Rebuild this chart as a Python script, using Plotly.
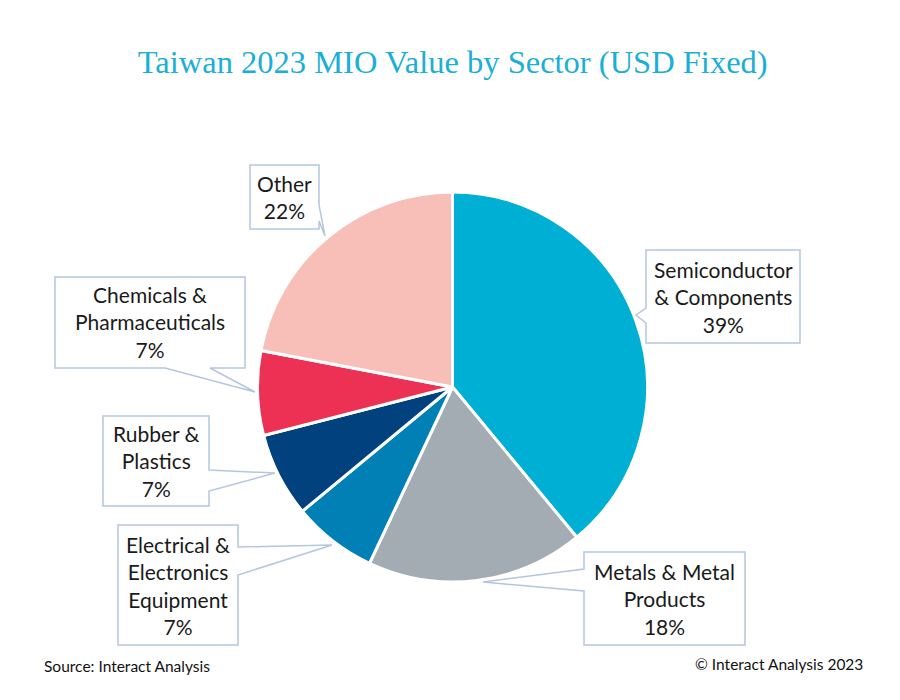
import plotly.graph_objects as go

sectors = ["Semiconductor<br>& Components", "Metals & Metal<br>Products",
           "Electrical &<br>Electronics<br>Equipment", "Rubber &<br>Plastics",
           "Chemicals &<br>Pharmaceuticals", "Other"]
shares = [39, 18, 7, 7, 7, 22]
colors = ["#00AFD4", "#A3ACB2", "#0080B4", "#00417E", "#EC3154", "#F8BFB8"]

W, H = 900, 700
# pie geometry (pixels)
cx, cy, r = 452.5, 387, 195

fig = go.Figure(go.Pie(
    labels=[s.replace("<br>", " ") for s in sectors], values=shares, sort=False,
    direction="clockwise", rotation=0,
    marker=dict(colors=colors, line=dict(color="white", width=3)),
    textinfo="none", hoverinfo="label+percent", showlegend=False,
    domain=dict(x=[(cx - r) / W, (cx + r) / W], y=[(H - cy - r) / H, (H - cy + r) / H]),
))

# callout layout (px): box (x0, y0, x1, y1), edge carrying the pointer, pointer base span, tip
callouts = [
    ((646, 250, 800, 343), "left", (308, 323), (636, 315)),
    ((584, 552, 745, 645), "left", (569, 591), (483, 582)),
    ((118, 525, 238, 645), "right", (547, 575), (332, 545)),
    ((103, 416, 209, 506), "right", (470, 491), (275, 473)),
    ((55, 277, 245, 368), "bottom", (165, 210), (255, 392)),
    ((250, 165, 319, 229), "right", (205, 221), (325, 236)),
]
bc = "#B4C6E0"


def P(x, y):
    return f"{x / W:.5f},{1 - y / H:.5f}"


def callout_path(box, edge, span, tip):
    x0, y0, x1, y1 = box
    a, b = span
    pts = [(x0, y0)]
    if edge == "top":
        pts += [(a, y0), tip, (b, y0)]
    pts.append((x1, y0))
    if edge == "right":
        pts += [(x1, a), tip, (x1, b)]
    pts.append((x1, y1))
    if edge == "bottom":
        pts += [(b, y1), tip, (a, y1)]
    pts.append((x0, y1))
    if edge == "left":
        pts += [(x0, b), tip, (x0, a)]
    return "M" + " L".join(P(*p) for p in pts) + " Z"


for name, val, (box, edge, span, tip) in zip(sectors, shares, callouts):
    fig.add_shape(type="path", xref="paper", yref="paper", layer="above",
                  path=callout_path(box, edge, span, tip),
                  fillcolor="white", line=dict(color=bc, width=1.5))
    fig.add_annotation(
        x=(box[0] + box[2]) / 2 / W, y=1 - (box[1] + box[3]) / 2 / H,
        xref="paper", yref="paper", xanchor="center", yanchor="middle",
        text=f"{name}<br>{val}%", showarrow=False, align="center",
        font=dict(family="Lato, Noto Sans, sans-serif", size=21, color="#1a1a1a"),
    )

fig.add_annotation(x=42 / W, y=1 - 677 / H, xref="paper", yref="paper", xanchor="left",
                   text="Source: Interact Analysis", showarrow=False,
                   font=dict(family="Lato, sans-serif", size=15.5, color="#111"))
fig.add_annotation(x=865 / W, y=1 - 675 / H, xref="paper", yref="paper", xanchor="right",
                   text="© Interact Analysis 2023", showarrow=False,
                   font=dict(family="Lato, sans-serif", size=15.5, color="#111"))

fig.update_layout(
    width=W, height=H, margin=dict(l=0, r=0, t=0, b=0),
    paper_bgcolor="white", plot_bgcolor="white",
    title=dict(text="Taiwan 2023 MIO Value by Sector (USD Fixed)", x=0.503, xanchor="center",
               y=1 - 62 / H, yanchor="middle",
               font=dict(family="Liberation Serif, DejaVu Serif, serif", size=32.5, color="#1AAFD6")),
)

fig.write_html("out.html")
